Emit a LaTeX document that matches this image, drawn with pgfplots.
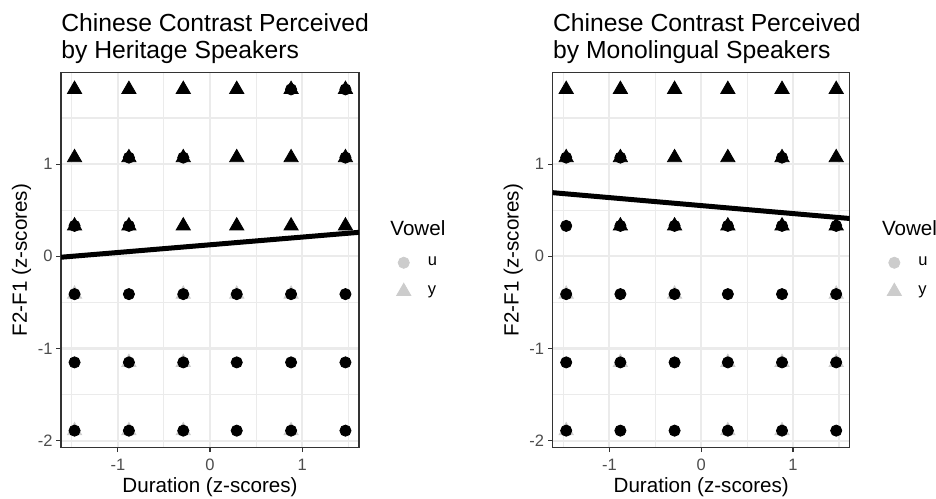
\documentclass[border=0pt]{standalone}
\usepackage{fontspec}
\setmainfont{Liberation Sans}
\usepackage{pgfplots}
\pgfplotsset{compat=1.18}
\definecolor{gridc}{HTML}{EBEBEB}
\definecolor{grey20}{HTML}{333333}
\definecolor{grey30}{HTML}{4D4D4D}
\definecolor{keygrey}{HTML}{CCCCCC}
\newcommand\titlefont{\fontsize{12.35}{13.3}\selectfont}
\newcommand\labfont{\fontsize{10.3}{12}\selectfont}
\newcommand\tickfont{\fontsize{8.25}{9.9}\selectfont}
\pgfplotsset{
  panel/.style={
    scale only axis, width=149pt, height=187.7pt,
    xmin=-1.617, xmax=1.617, ymin=-2.075, ymax=1.995,
    xtick={-1,0,1}, xticklabels={-1,0,1},
    ytick={-2,-1,0,1}, yticklabels={-2,-1,0,1},
    minor xtick={-1.5,-0.5,0.5,1.5}, minor ytick={-1.5,-0.5,0.5,1.5},
    grid=both,
    major grid style={gridc, line width=1.1pt},
    minor grid style={gridc, line width=0.55pt},
    minor tick length=0pt,
    major tick length=2.25pt,
    tick align=outside,
    xtick pos=bottom, ytick pos=left,
    tick style={grey20, line width=0.55pt},
    axis line style={grey20, line width=0.6pt},
    ticklabel style={font=\tickfont, text=grey30},
    yticklabel style={xshift=1.5pt},
    xlabel={Duration (z-scores)},
    ylabel={F2-F1 (z-scores)},
    label style={font=\labfont},
    xlabel style={at={(axis description cs:0.5,-0.1199)}, anchor=base},
    ylabel style={at={(axis description cs:-0.1325,0.5)}, anchor=center},
    legend style={at={(axis description cs:1.125,0.52)}, anchor=north west, draw=none, fill=none, font=\tickfont, inner sep=0pt, row sep=4.5pt,
      /tikz/every odd column/.append style={column sep=6.5pt}},
    legend cell align=left,
  },
  gtri/.style={only marks, mark=triangle*, mark size=4.1pt, color=keygrey, forget plot},
  bcirc/.style={only marks, mark=*, mark size=2.8pt, color=black, forget plot},
  btri/.style={only marks, mark=triangle*, mark size=4.1pt, color=black, forget plot},
  fit/.style={black, line width=2.5pt, forget plot},
}
\begin{document}
\begin{tikzpicture}
\useasboundingbox (0,-249pt) rectangle (468pt,0pt);
% ---------------- left panel ----------------
\begin{axis}[panel, at={(30.5pt,-223.85pt)}, anchor=south west]
\addplot[gtri] table {
x y
-1.47 -0.41
-0.29 -0.41
0.29 -0.41
0.88 -0.41
-0.88 -1.15
-0.29 -1.15
-1.47 -1.89
-0.88 -1.89
-0.29 -1.89
0.88 -1.89
};
\addplot[bcirc] table {
x y
-1.47 -0.41
-0.88 -0.41
-0.29 -0.41
0.29 -0.41
0.88 -0.41
1.47 -0.41
-1.47 -1.15
-0.88 -1.15
-0.29 -1.15
0.29 -1.15
0.88 -1.15
1.47 -1.15
-1.47 -1.89
-0.88 -1.89
-0.29 -1.89
0.29 -1.89
0.88 -1.89
1.47 -1.89
0.88 1.81
1.47 1.81
-0.88 1.07
-0.29 1.07
1.47 1.07
-1.47 0.33
-0.88 0.33
};
\addplot[btri] table {
x y
-1.47 1.81
-0.88 1.81
-0.29 1.81
0.29 1.81
0.88 1.81
1.47 1.81
-1.47 1.07
-0.88 1.07
-0.29 1.07
0.29 1.07
0.88 1.07
1.47 1.07
-1.47 0.33
-0.88 0.33
-0.29 0.33
0.29 0.33
0.88 0.33
1.47 0.33
};
\addplot[fit] coordinates {(-1.617,-0.01) (1.617,0.26)};
\addlegendimage{only marks, mark=*, mark size=2.8pt, color=keygrey}
\addlegendentry{u}
\addlegendimage{only marks, mark=triangle*, mark size=4.1pt, color=keygrey}
\addlegendentry{y}
\end{axis}
% ---------------- right panel ----------------
\begin{axis}[panel, width=148.5pt, at={(276.35pt,-223.85pt)}, anchor=south west]
\addplot[gtri] table {
x y
-1.47 -0.41
-0.29 -0.41
1.47 -0.41
-0.88 -1.15
0.29 -1.15
0.88 -1.15
1.47 -1.15
-1.47 -1.89
0.29 -1.89
0.88 -1.89
};
\addplot[bcirc] table {
x y
-1.47 -0.41
-0.88 -0.41
-0.29 -0.41
0.29 -0.41
0.88 -0.41
1.47 -0.41
-1.47 -1.15
-0.88 -1.15
-0.29 -1.15
0.29 -1.15
0.88 -1.15
1.47 -1.15
-1.47 -1.89
-0.88 -1.89
-0.29 -1.89
0.29 -1.89
0.88 -1.89
1.47 -1.89
-1.47 0.33
-0.88 0.33
-0.29 0.33
0.29 0.33
0.88 0.33
1.47 0.33
-1.47 1.07
-0.88 1.07
0.88 1.07
};
\addplot[btri] table {
x y
-1.47 1.81
-0.88 1.81
-0.29 1.81
0.29 1.81
0.88 1.81
1.47 1.81
-1.47 1.07
-0.88 1.07
-0.29 1.07
0.29 1.07
0.88 1.07
1.47 1.07
-0.88 0.33
-0.29 0.33
0.29 0.33
0.88 0.33
1.47 0.33
};
\addplot[fit] coordinates {(-1.617,0.69) (1.617,0.41)};
\addlegendimage{only marks, mark=*, mark size=2.8pt, color=keygrey}
\addlegendentry{u}
\addlegendimage{only marks, mark=triangle*, mark size=4.1pt, color=keygrey}
\addlegendentry{y}
\end{axis}
% titles and legend titles
\node[anchor=base west, inner sep=0pt, font=\titlefont] at (30.5pt,-15.85pt) {Chinese Contrast Perceived};
\node[anchor=base west, inner sep=0pt, font=\titlefont] at (30.5pt,-29.15pt) {by Heritage Speakers};
\node[anchor=base west, inner sep=0pt, font=\titlefont] at (276.35pt,-15.85pt) {Chinese Contrast Perceived};
\node[anchor=base west, inner sep=0pt, font=\titlefont] at (276.35pt,-29.15pt) {by Monolingual Speakers};
\node[anchor=base west, inner sep=0pt, font=\labfont] at (195pt,-117.5pt) {Vowel};
\node[anchor=base west, inner sep=0pt, font=\labfont] at (440.8pt,-117.5pt) {Vowel};
\end{tikzpicture}
\end{document}
